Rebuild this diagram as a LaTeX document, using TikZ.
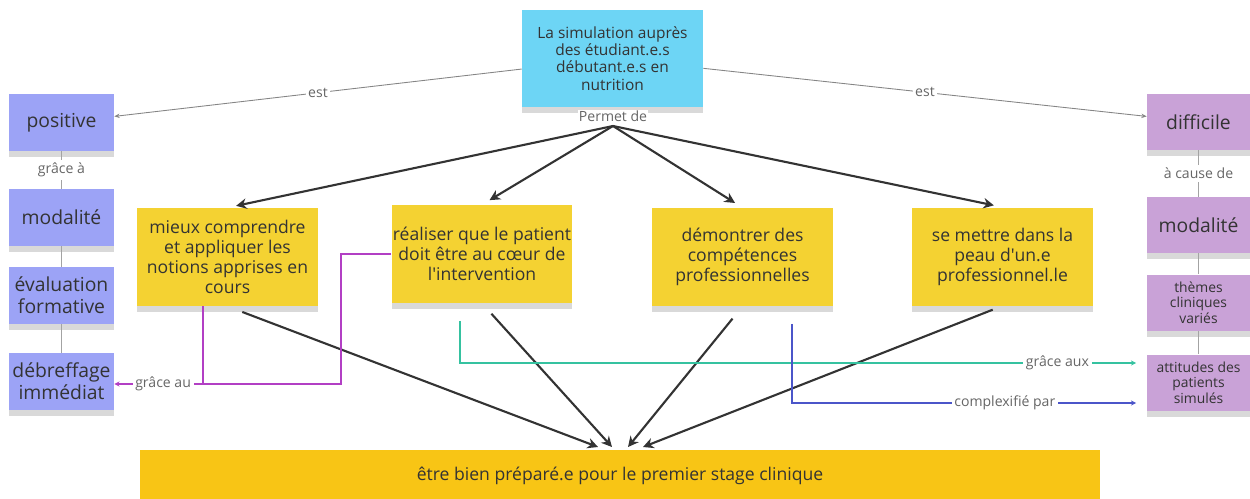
\documentclass[tikz,border=0pt]{standalone}
\usepackage{fontspec}
\setmainfont{Open Sans}
\usetikzlibrary{arrows.meta,positioning,shadows}
\definecolor{txtcol}{HTML}{333333}
\definecolor{lblcol}{HTML}{666666}
\definecolor{topcol}{HTML}{6DD5F5}
\definecolor{leftcol}{HTML}{9CA3F6}
\definecolor{rightcol}{HTML}{C9A2D7}
\definecolor{yelcol}{HTML}{F4D232}
\definecolor{goalcol}{HTML}{F8C515}
\definecolor{purpcol}{HTML}{B23FC4}
\definecolor{tealcol}{HTML}{35C2A0}
\definecolor{indcol}{HTML}{4B55C9}

\begin{document}
\begin{tikzpicture}
[x=0.02cm,y=-0.02cm,
 sticky/.style={inner sep=0pt,align=center,text=txtcol,drop shadow={shadow xshift=0pt,shadow yshift=-3.5pt,opacity=0.3}},
 toppad/.style={sticky,fill=topcol,minimum width=3.62cm,minimum height=1.94cm,font=\fontsize{8.8}{9.8}\selectfont},
 leftpad/.style={sticky,fill=leftcol,minimum width=2.1cm,minimum height=1.14cm,font=\fontsize{11}{12.4}\selectfont},
 rightpad/.style={sticky,fill=rightcol,minimum width=2.06cm,minimum height=1.12cm,font=\fontsize{11}{12.4}\selectfont},
 smallpad/.style={rightpad,font=\fontsize{7.9}{8.8}\selectfont},
 yelpad/.style={sticky,fill=yelcol,minimum width=3.62cm,minimum height=1.96cm,font=\fontsize{10}{11.4}\selectfont},
 goalpad/.style={inner sep=0pt,fill=goalcol,text=txtcol,minimum width=19.2cm,minimum height=1.04cm,font=\fontsize{10}{11}\selectfont},
 lbl/.style={fill=white,text=lblcol,inner sep=1.5pt,font=\fontsize{8}{9}\selectfont},
 thinarr/.style={draw=lblcol!80,line width=0.5pt,-{Stealth[length=3pt,width=2.5pt]}},
 glink/.style={draw=lblcol!60,line width=0.6pt},
 bigarr/.style={draw=txtcol,line width=1.2pt,-{Stealth[length=6pt,width=6pt]}},
 plink/.style={draw=purpcol,line width=0.6pt},
 tlink/.style={draw=tealcol,line width=0.7pt},
 ilink/.style={draw=indcol,line width=0.6pt}]
\useasboundingbox (0,0) rectangle (1250,498);

% centre
\node[toppad] (sim) at (612.5,58.5) {La simulation auprès\\des étudiant.e.s\\débutant.e.s en\\nutrition};
\node[lbl,inner sep=0.5pt] (permet) at (613,116) {Permet de};
\coordinate (src) at (613,126);

% colonne gauche
\node[leftpad] (pos) at (61.5,122.5) {positive};
\node[leftpad] (modg) at (61.5,217.5) {modalité};
\node[leftpad] (eval) at (61.5,295.5) {évaluation\\formative};
\node[leftpad] (deb) at (61.5,381.5) {débreffage\\immédiat};

% colonne droite
\node[rightpad] (dif) at (1198.5,122) {difficile};
\node[rightpad] (modd) at (1198.5,225) {modalité};
\node[smallpad] (them) at (1198.5,302.5) {thèmes\\cliniques\\variés};
\node[smallpad] (att) at (1198.5,382.5) {attitudes des\\patients\\simulés};

% buts
\node[yelpad] (y1) at (227.5,257) {mieux comprendre\\et appliquer les\\notions apprises en\\cours};
\node[yelpad] (y2) at (482,254) {réaliser que le patient\\doit être au cœur de\\l\textquotesingle intervention};
\node[yelpad] (y3) at (742.5,257) {démontrer des\\compétences\\professionnelles};
\node[yelpad] (y4) at (1002.5,256.5) {se mettre dans la\\peau d\textquotesingle un.e\\professionnel.le};

\node[goalpad] (stage) at (620,476) {être bien préparé.e pour le premier stage clinique};

\coordinate (s1) at (598,447);
\coordinate (s2) at (612,447);
\coordinate (s3) at (628,447);
\coordinate (s4) at (643,447);

\coordinate (pj) at (341,384);
\coordinate (pk) at (203,384);
\coordinate (tk) at (460,363);
\coordinate (ik) at (792,403);

% est
\draw[thinarr] (sim) -- node[lbl]{est} (pos);
\draw[thinarr] (sim) -- node[lbl]{est} (dif);

% permet de
\draw[bigarr,shorten >=5pt] (src) -- (y1.north);
\draw[bigarr,shorten >=5pt] (src) -- (y2.north);
\draw[bigarr,shorten >=5pt] (src) -- (y3.north);
\draw[bigarr,shorten >=5pt] (src) -- (y4.north);

\draw[bigarr,shorten <=9pt] (y1.south) -- (s1);
\draw[bigarr,shorten <=8pt] (y2.south) -- (s2);
\draw[bigarr,shorten <=9pt] (y3.south) -- (s3);
\draw[bigarr,shorten <=6pt] (y4.south) -- (s4);

% liens des colonnes
\draw[glink] (pos) -- node[lbl]{grâce à} (modg);
\draw[glink] (modg) -- (eval);
\draw[glink] (eval) -- (deb);
\draw[glink] (dif) -- node[lbl]{à cause de} (modd);
\draw[glink] (modd) -- (them);
\draw[glink] (them) -- (att);

% grâce au
\draw[plink] (y2.west) -| (pj) -- (pk);
\draw[plink,-{Stealth[length=3pt,width=3pt]}] (y1.south -| pk) -- (pk) -- node[lbl,pos=0.45]{grâce au} (deb.east |- pk);

% grâce aux / complexifié par
\draw[tlink,shorten <=10pt,shorten >=6pt,-{Stealth[length=3pt,width=3pt]}] (y2.south -| tk) -- (tk) -- node[lbl,pos=0.87]{grâce aux} (att.west |- tk);
\draw[ilink,shorten <=10pt,shorten >=6pt,-{Stealth[length=3pt,width=3pt]}] (y3.south -| ik) -- (ik) -- node[lbl,pos=0.6]{complexifié par} (att.west |- ik);
\end{tikzpicture}
\end{document}
